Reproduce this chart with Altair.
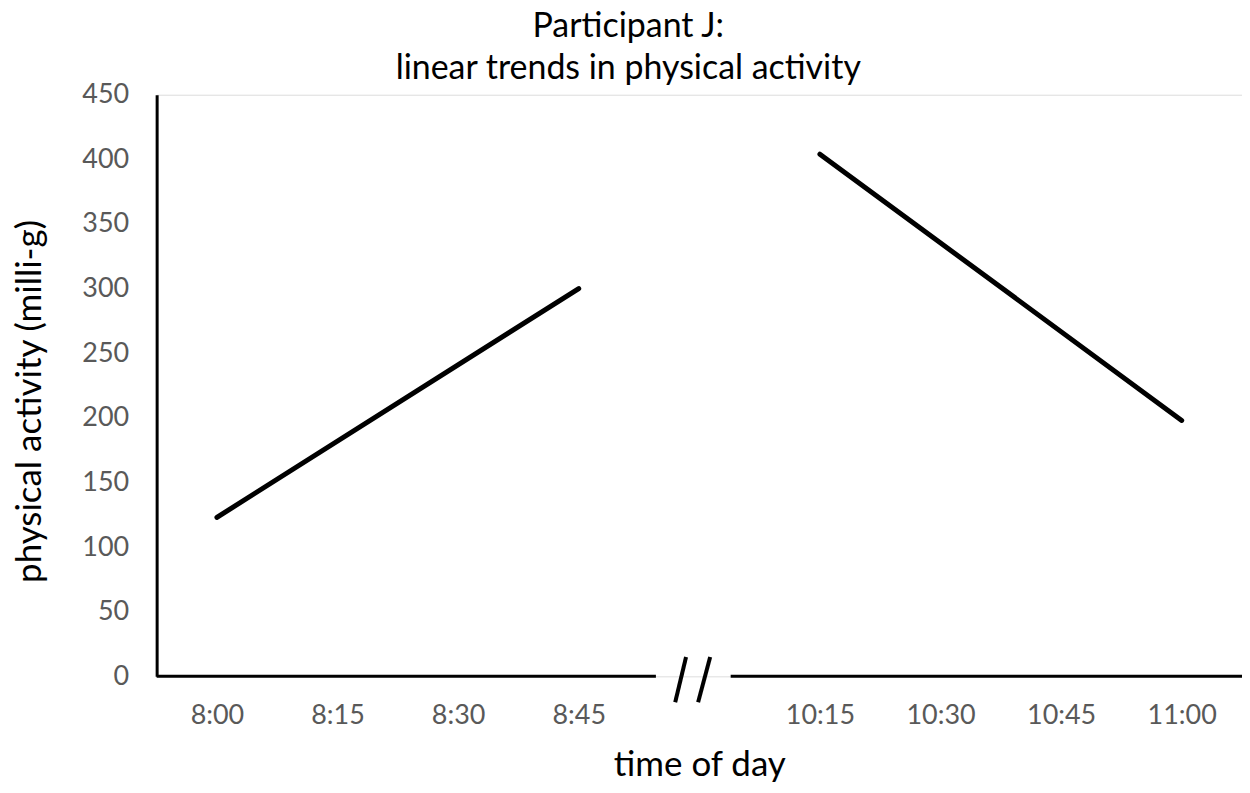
import altair as alt
import pandas as pd

# category labels (index positions on the x scale; index 4 is the gap)
tick_index = [0, 1, 2, 3, 5, 6, 7, 8]
tick_labels = ["8:00", "8:15", "8:30", "8:45", "10:15", "10:30", "10:45", "11:00"]

# linear trend segments
seg_name = ["early", "early", "late", "late"]
seg_x = [0, 3, 5, 8]
seg_y = [123, 300, 404, 198]

# broken x-axis pieces (in x-index units)
axis_x1 = [-0.5, 4.26]
axis_x2 = [3.64, 8.5]

# break marks "//"
slash_x1 = [3.80, 3.99]
slash_x2 = [3.89, 4.09]
slash_y1 = [-20, -20]
slash_y2 = [15, 15]

FONT = "Lato"

lines_df = pd.DataFrame({"seg": seg_name, "x": seg_x, "y": seg_y})
axis_df = pd.DataFrame({"x1": axis_x1, "x2": axis_x2, "y": [0, 0]})
slash_df = pd.DataFrame({"x1": slash_x1, "x2": slash_x2, "y1": slash_y1, "y2": slash_y2})

label_map = "{" + ",".join(f"'{i}':'{l}'" for i, l in zip(tick_index, tick_labels)) + "}"

x_scale = alt.Scale(domain=[-0.5, 8.5], nice=False, zero=False)
y_scale = alt.Scale(domain=[0, 450], nice=False)

x_axis = alt.Axis(
    values=tick_index,
    labelExpr=f"{label_map}[datum.value]",
    domain=False, ticks=False, grid=False,
    labelFont=FONT, labelFontSize=27, labelColor="#595959", labelPadding=26,
    title="time of day", titleFont=FONT, titleFontSize=35, titleFontWeight="normal",
    titleColor="#000000", titlePadding=19,
)
y_axis = alt.Axis(
    values=list(range(0, 451, 50)),
    domain=True, domainColor="#000000", domainWidth=3,
    ticks=False, grid=False,
    labelFont=FONT, labelFontSize=27, labelColor="#595959", labelPadding=28,
    title="physical activity (milli-g)", titleFont=FONT, titleFontSize=35,
    titleFontWeight="normal", titleColor="#000000", titlePadding=34, titleY=307,
)

lines = alt.Chart(lines_df).mark_line(color="#000000", strokeWidth=5, strokeCap="round").encode(
    x=alt.X("x:Q", scale=x_scale, axis=x_axis),
    y=alt.Y("y:Q", scale=y_scale, axis=y_axis),
    detail="seg:N",
)

axis_rules = alt.Chart(axis_df).mark_rule(color="#000000", strokeWidth=3).encode(
    x=alt.X("x1:Q", axis=x_axis), x2="x2:Q", y=alt.Y("y:Q", axis=y_axis),
)

slashes = alt.Chart(slash_df).mark_rule(color="#000000", strokeWidth=4).encode(
    x=alt.X("x1:Q", axis=x_axis), x2="x2:Q", y=alt.Y("y1:Q", axis=y_axis), y2="y2:Q",
)

chart = alt.layer(lines, axis_rules, slashes).properties(
    width=1088,
    height=583,
    title=alt.TitleParams(
        text=["Participant J:", "linear trends in physical activity"],
        font=FONT, fontSize=34, fontWeight="normal", color="#000000",
        lineHeight=42, anchor="middle", frame="bounds", offset=-5,
    ),
    autosize=alt.AutoSizeParams(type="none"),
    padding={"left": 149, "top": 86, "right": 0, "bottom": 108},
).configure_view(stroke="transparent", strokeWidth=0).configure_axis(grid=False).configure(background="#ffffff")

chart.save("out.html", embed_options={"renderer": "svg", "actions": False})
